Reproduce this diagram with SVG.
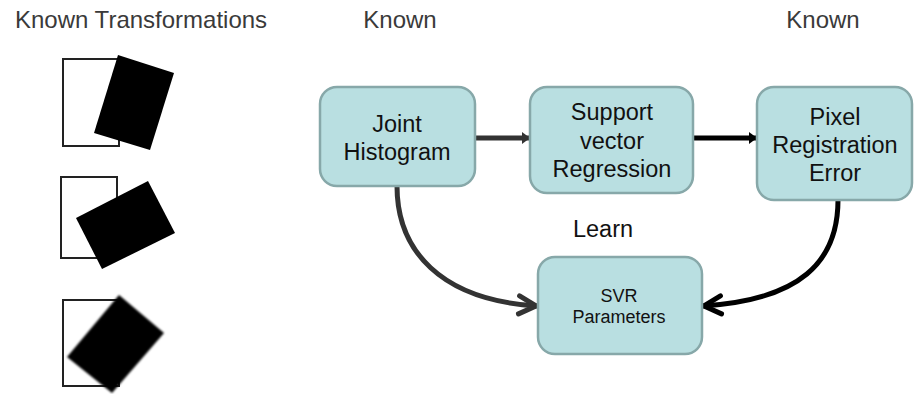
<svg xmlns="http://www.w3.org/2000/svg" width="914" height="394" viewBox="0 0 914 394">
  <style>
    .label { font-family: "Liberation Sans", Arial, sans-serif; font-size: 24px; fill: #3a3a3a; }
    .box rect { fill: #b9dfe1; stroke: #87a8a9; stroke-width: 2.5; }
    .box text { font-family: "Liberation Sans", Arial, sans-serif; font-size: 23.5px; fill: #111; text-anchor: middle; }
    .frame { fill: #fff; stroke: #222; stroke-width: 2; }
    .shape { fill: #000; }
    .conn { fill: none; stroke-width: 5; }
  </style>
  <defs>
    <marker id="tri-grey" markerUnits="userSpaceOnUse" markerWidth="12" markerHeight="14" refX="8" refY="6" orient="auto">
      <path d="M0,0 L8,6 L0,12 Z" fill="#333"/>
    </marker>
    <marker id="tri-black" markerUnits="userSpaceOnUse" markerWidth="12" markerHeight="14" refX="8" refY="6" orient="auto">
      <path d="M0,0 L8,6 L0,12 Z" fill="#000"/>
    </marker>
    <marker id="chev-grey" markerUnits="userSpaceOnUse" markerWidth="30" markerHeight="30" refX="22" refY="13" orient="auto">
      <path d="M4,4 L21,13 L4,22" fill="none" stroke="#333" stroke-width="5" stroke-linecap="round" stroke-linejoin="round"/>
    </marker>
    <marker id="chev-black" markerUnits="userSpaceOnUse" markerWidth="30" markerHeight="30" refX="22" refY="13" orient="auto">
      <path d="M4,4 L21,13 L4,22" fill="none" stroke="#000" stroke-width="5" stroke-linecap="round" stroke-linejoin="round"/>
    </marker>
    <filter id="soft" x="-20%" y="-20%" width="140%" height="140%">
      <feGaussianBlur stdDeviation="1.1"/>
    </filter>
  </defs>

  <!-- column headings -->
  <text class="label" x="15" y="28">Known Transformations</text>
  <text class="label" x="400" y="28" text-anchor="middle">Known</text>
  <text class="label" x="823" y="28" text-anchor="middle">Known</text>

  <!-- example transformations: reference frame with rotated block -->
  <g id="transform-1">
    <rect class="frame" x="63" y="59" width="56" height="87"/>
    <polygon class="shape" points="118,55 174,73 150,150 94,133"/>
  </g>
  <g id="transform-2">
    <rect class="frame" x="61" y="177" width="56" height="81"/>
    <polygon class="shape" points="76,218 148,181 175,233 102,269"/>
  </g>
  <g id="transform-3">
    <rect class="frame" x="63" y="300" width="56" height="86"/>
    <polygon class="shape" points="119,295 164,333 112,393 67,357" filter="url(#soft)"/>
  </g>

  <!-- connectors -->
  <g id="connectors">
    <line class="conn" x1="475" y1="138" x2="530" y2="138" stroke="#333" marker-end="url(#tri-grey)"/>
    <line class="conn" x1="693" y1="138" x2="757" y2="138" stroke="#000" marker-end="url(#tri-black)"/>
    <path class="conn" d="M397,186 C397,250 440,300 537,306" stroke="#333" marker-end="url(#chev-grey)"/>
    <path class="conn" d="M838,200 C838,262 800,300 703,306" stroke="#000" marker-end="url(#chev-black)"/>
  </g>

  <g id="node-joint-histogram" class="box">
    <rect x="320" y="87" width="155" height="99" rx="17"/>
    <text x="397" y="132">Joint</text>
    <text x="397" y="160">Histogram</text>
  </g>
  <g id="node-svr" class="box">
    <rect x="530" y="87" width="163" height="106" rx="17"/>
    <text x="612" y="120">Support</text>
    <text x="612" y="149">vector</text>
    <text x="612" y="177">Regression</text>
  </g>
  <g id="node-pixel-error" class="box">
    <rect x="757" y="87" width="155" height="113" rx="17"/>
    <text x="835" y="125">Pixel</text>
    <text x="835" y="153">Registration</text>
    <text x="835" y="181">Error</text>
  </g>
  <g id="node-svr-parameters" class="box">
    <rect x="538" y="257" width="164" height="97" rx="17"/>
    <text x="619" y="302" style="font-size:18px">SVR</text>
    <text x="619" y="323" style="font-size:18px">Parameters</text>
  </g>

  <text x="603" y="237" text-anchor="middle" style="font-family:'Liberation Sans', Arial, sans-serif; font-size:23.5px; fill:#111">Learn</text>
</svg>
